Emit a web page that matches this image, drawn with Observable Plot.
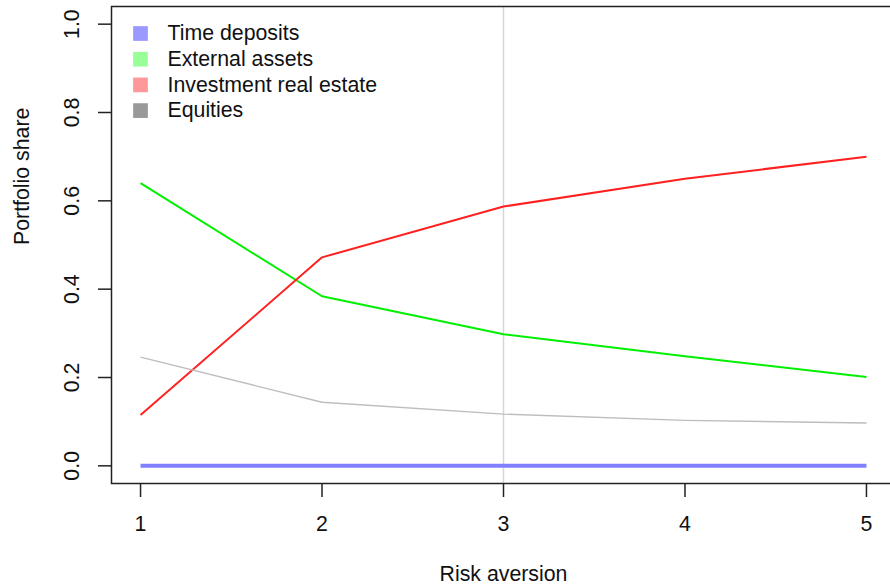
<!DOCTYPE html>
<html>
<head>
<meta charset="utf-8">
<script src="https://cdn.jsdelivr.net/npm/d3@7"></script>
<script src="https://cdn.jsdelivr.net/npm/@observablehq/plot@0.6"></script>
<style>
  html, body { margin: 0; padding: 0; background: #fff; }
  #wrap { width: 890px; height: 587px; overflow: hidden; position: relative; }
</style>
</head>
<body>
<div id="wrap"></div>
<script>
// ---- data ----
const riskAversion = [1, 2, 3, 4, 5];
const seriesNames = ["Time deposits", "External assets", "Investment real estate", "Equities"];
const timeDeposits = [0, 0, 0, 0, 0];
const externalAssets = [0.640, 0.384, 0.298, 0.248, 0.201];
const investmentRealEstate = [0.115, 0.472, 0.587, 0.650, 0.700];
const equities = [0.246, 0.144, 0.117, 0.103, 0.097];
const xTicks = [1, 2, 3, 4, 5];
const yTicks = [0, 0.2, 0.4, 0.6, 0.8, 1.0];
const markerX = [3];

// ---- styles ----
const lineColors = ["#8080ff", "#00f000", "#ff2020", "#bdbdbd"];
const lineWidths = [4, 2, 2, 1.4];
const legendColors = ["#9999ff", "#99ff99", "#ff9999", "#999999"];

const seriesValues = [timeDeposits, externalAssets, investmentRealEstate, equities];
const rows = seriesValues.map((vals, s) =>
  riskAversion.map((x, i) => ({series: seriesNames[s], x, y: vals[i]}))
);

const font = "'Liberation Sans', Arial, Helvetica, sans-serif";
const fs = 21.3;

const legendMarks = [];
seriesNames.forEach((name, i) => {
  legendMarks.push(Plot.dot([name], {
    frameAnchor: "top-left", dx: 140 - 111, dy: 33 - 6 + i * 25.7,
    symbol: "square", r: 8.3, fill: legendColors[i], stroke: "none"
  }));
  legendMarks.push(Plot.text([name], {
    text: d => d, frameAnchor: "top-left", dx: 167 - 111, dy: 33 - 6 + i * 25.7,
    textAnchor: "start", lineAnchor: "middle", fontSize: fs, fill: "#111"
  }));
});

const chart = Plot.plot({
  width: 900,
  height: 587,
  marginLeft: 111,
  marginRight: 5,
  marginTop: 6,
  marginBottom: 104,
  style: {fontFamily: font, maxWidth: "none", background: "#fff"},
  x: {domain: [0.84, 5.16]},
  y: {domain: [-0.04, 1.04]},
  marks: [
    Plot.ruleX(markerX, {stroke: "#d6d6d6", strokeWidth: 1.5}),
    ...rows.map((r, s) => Plot.line(r, {x: "x", y: "y", stroke: lineColors[s], strokeWidth: lineWidths[s], strokeLinecap: "butt"})),
    ...legendMarks,
    Plot.frame({stroke: "#222", strokeWidth: 1.5}),
    Plot.axisX(xTicks, {
      tickSize: 14, tickPadding: 18, fontSize: fs, label: null,
      tickFormat: d => String(d), stroke: "#222", strokeWidth: 1.5, fill: "#111"
    }),
    Plot.axisY(yTicks, {
      tickSize: 13, tickPadding: 20, fontSize: fs, label: null, tickRotate: -90,
      tickFormat: d => d.toFixed(1), stroke: "#222", strokeWidth: 1.5, fill: "#111"
    }),
    Plot.text(["Risk aversion"], {
      text: d => d, frameAnchor: "bottom", dy: 91, fontSize: fs, fill: "#111", lineAnchor: "middle"
    }),
    Plot.text(["Portfolio share"], {
      text: d => d, frameAnchor: "left", dx: -89, rotate: -90, fontSize: fs, fill: "#111", lineAnchor: "middle"
    })
  ]
});
document.getElementById("wrap").appendChild(chart);
</script>
</body>
</html>
